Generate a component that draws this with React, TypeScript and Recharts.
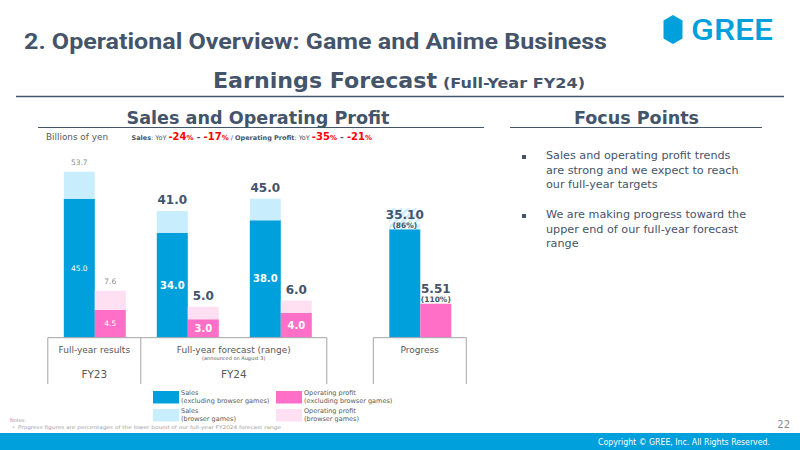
import React from 'react';
import { BarChart, Bar, XAxis, YAxis, LabelList, ReferenceLine } from 'recharts';

// ---------------- data ----------------
const categories = ['FY23 results', 'FY24 forecast (low)', 'FY24 forecast (high)', 'Progress'];
const xPositions = [0, 2, 4, 7];
const salesExBrowser = [45.0, 34.0, 38.0, 35.1];
const salesBrowser = [8.7, 7.0, 7.0, 0];
const opExBrowser = [4.5, 3.0, 4.0, 5.51];
const opBrowser = [3.1, 2.0, 2.0, 0];
const salesTotalLabels = ['53.7', '41.0', '45.0', '35.10'];
const opTotalLabels = ['7.6', '5.0', '6.0', '5.51'];
const salesInnerLabels = ['45.0', '34.0', '38.0', ''];
const opInnerLabels = ['4.5', '3.0', '4.0', ''];
const salesProgressPct = ['', '', '', '(86%)'];
const opProgressPct = ['', '', '', '(110%)'];

const groupTicks = [0, 3, 7];
const groupLabels = ['Full-year results', 'Full-year forecast (range)', 'Progress'];
const groupSubLabels = ['', '(announced on August 3)', ''];
const yearLabels = ['FY23', 'FY24', ''];
const frameEdges = [-1, 1, 5, 6, 8];
const frameTops = [[-1, 5], [6, 8]];
const frameDepth = -15;

const legendNames = [
  ['Sales', '(excluding browser games)'],
  ['Operating profit', '(excluding browser games)'],
  ['Sales', '(browser games)'],
  ['Operating profit', '(browser games)'],
];

const bullets = [
  ['Sales and operating profit trends', 'are strong and we expect to reach', 'our full-year targets'],
  ['We are making progress toward the', 'upper end of our full-year forecast', 'range'],
];

// ---------------- styles ----------------
const DARK_BLUE = '#00A0DC';
const LIGHT_BLUE = '#C8EEFE';
const PINK = '#FF6EC7';
const LIGHT_PINK = '#FFE0F3';
const SLATE = '#44546A';
const GRAY = '#595959';
const FONT = 'DejaVu Sans';
const legendColors = [DARK_BLUE, PINK, LIGHT_BLUE, LIGHT_PINK];

const chartData = categories.map((name, i) => ({
  name,
  x: xPositions[i],
  salesBase: salesExBrowser[i],
  salesBrowser: salesBrowser[i],
  opBase: opExBrowser[i],
  opBrowser: opBrowser[i],
  salesTop: salesProgressPct[i] ? '' : salesTotalLabels[i],
  opTop: opProgressPct[i] ? '' : opTotalLabels[i],
  salesProgTop: salesProgressPct[i] ? salesTotalLabels[i] : '',
  opProgTop: opProgressPct[i] ? opTotalLabels[i] : '',
  salesIn: salesInnerLabels[i],
  opIn: opInnerLabels[i],
}));

const box = (p: any) => {
  const vb = p.viewBox || {};
  return {
    x: p.x ?? vb.x,
    y: p.y ?? vb.y,
    width: p.width ?? vb.width,
    height: p.height ?? vb.height,
  };
};

const TopLabel = (props: any) => {
  const { x, y, width } = box(props);
  const idx = props.index;
  const value = props.value;
  if (!value) return null;
  const cx = x + width / 2;
  if (idx === 0) {
    return (
      <text x={cx} y={y - 7} textAnchor="middle" fontSize={7.5} fill="#8C8C8C" fontFamily={FONT}>
        {value}
      </text>
    );
  }
  return (
    <text x={cx} y={y - 7} textAnchor="middle" fontSize={12} fontWeight="bold" fill={SLATE} fontFamily={FONT}>
      {value}
    </text>
  );
};

const makeProgressLabel = (pctList: string[], hatched: boolean) => (props: any) => {
  const { x, y, width } = box(props);
  const value = props.value;
  if (!value) return null;
  const pct = pctList[props.index];
  const cx = x + width / 2;
  return (
    <g>
      {hatched && (
        <g>
          <defs>
            <pattern id="hatch" width="5" height="5" patternUnits="userSpaceOnUse" patternTransform="rotate(45)">
              <rect width="5" height="5" fill="#FFFFFF" />
              <rect width="2.5" height="5" fill={LIGHT_BLUE} />
            </pattern>
          </defs>
          <rect x={x} y={y - 21} width={width} height={21} fill="url(#hatch)" />
        </g>
      )}
      <text x={cx} y={y - 10.5} textAnchor="middle" fontSize={12} fontWeight="bold" fill={SLATE} fontFamily={FONT}>
        {value}
      </text>
      <text x={cx} y={y - 1.5} textAnchor="middle" fontSize={7.5} fontWeight="bold" fill={SLATE} fontFamily={FONT}>
        {pct}
      </text>
    </g>
  );
};

const InnerLabel = (props: any) => {
  const { x, y, width, height } = box(props);
  const value = props.value;
  if (!value) return null;
  const idx = props.index;
  return (
    <text
      x={x + width / 2}
      y={y + height / 2}
      dy="0.35em"
      textAnchor="middle"
      fontSize={idx === 0 ? 7.5 : 10}
      fontWeight={idx === 0 ? 'normal' : 'bold'}
      fill="#FFFFFF"
      fontFamily={FONT}
    >
      {value}
    </text>
  );
};

const GroupTick = (props: any) => {
  const { x, y, payload } = props;
  const i = groupTicks.indexOf(payload.value);
  if (i < 0) return null;
  return (
    <g>
      <text x={x} y={y + 15} textAnchor="middle" fontSize={9} fill={GRAY} fontFamily={FONT}>
        {groupLabels[i]}
      </text>
      {groupSubLabels[i] && (
        <text x={x} y={y + 22} textAnchor="middle" fontSize={5} fill={GRAY} fontFamily={FONT}>
          {groupSubLabels[i]}
        </text>
      )}
      {yearLabels[i] && (
        <text x={x} y={y + 40.5} textAnchor="middle" fontSize={10.5} fill={GRAY} fontFamily={FONT}>
          {yearLabels[i]}
        </text>
      )}
    </g>
  );
};

const SalesProgress = makeProgressLabel(salesProgressPct, true);
const OpProgress = makeProgressLabel(opProgressPct, false);

export default function App() {
  return (
    <div style={{ position: 'absolute', left: 0, top: 0, width: 800, height: 450, background: '#FFFFFF', overflow: 'hidden' }}>
      <div style={{ position: 'absolute', left: 0, top: 0 }}>
        <BarChart
          width={500}
          height={450}
          data={chartData}
          margin={{ top: 152.3, left: 47.8, right: 33.7, bottom: 62.3 }}
          barGap={0}
        >
          <XAxis
            type="number"
            dataKey="x"
            domain={[-1, 8]}
            ticks={groupTicks}
            tick={<GroupTick />}
            interval={0}
            axisLine={false}
            tickLine={false}
            tickSize={0}
            tickMargin={0}
            height={50}
            allowDataOverflow
          />
          <YAxis yAxisId="s" hide domain={[0, 60]} allowDataOverflow />
          <YAxis yAxisId="o" hide orientation="right" domain={[0, 30]} allowDataOverflow />
          <Bar yAxisId="s" dataKey="salesBase" stackId="s" fill={DARK_BLUE} barSize={31} isAnimationActive={false}>
            <LabelList dataKey="salesIn" content={InnerLabel} />
            <LabelList dataKey="salesProgTop" content={SalesProgress} />
          </Bar>
          <Bar yAxisId="s" dataKey="salesBrowser" stackId="s" fill={LIGHT_BLUE} barSize={31} isAnimationActive={false}>
            <LabelList dataKey="salesTop" content={TopLabel} />
          </Bar>
          <Bar yAxisId="o" dataKey="opBase" stackId="o" fill={PINK} barSize={31} isAnimationActive={false}>
            <LabelList dataKey="opIn" content={InnerLabel} />
            <LabelList dataKey="opProgTop" content={OpProgress} />
          </Bar>
          <Bar yAxisId="o" dataKey="opBrowser" stackId="o" fill={LIGHT_PINK} barSize={31} isAnimationActive={false}>
            <LabelList dataKey="opTop" content={TopLabel} />
          </Bar>
          {frameTops.map(([a, b], i) => (
            <ReferenceLine
              key={'t' + i}
              yAxisId="s"
              segment={[{ x: a, y: 0 }, { x: b, y: 0 }]}
              stroke="#A6A6A6"
              strokeWidth={1}
              ifOverflow="visible"
            />
          ))}
          {frameEdges.map((e, i) => (
            <ReferenceLine
              key={'e' + i}
              yAxisId="s"
              segment={[{ x: e, y: 0 }, { x: e, y: frameDepth }]}
              stroke="#A6A6A6"
              strokeWidth={1}
              ifOverflow="visible"
            />
          ))}
        </BarChart>
      </div>

      <svg width={800} height={450} style={{ position: 'absolute', left: 0, top: 0, pointerEvents: 'none' }}>
        {/* Title */}
        <text x={24} y={49} fontSize={22} fontWeight="bold" fill={SLATE} fontFamily="Roboto" textLength={583} lengthAdjust="spacingAndGlyphs">
          2. Operational Overview: Game and Anime Business
        </text>
        {/* Logo */}
        <polygon points="673,15 682.5,20.5 682.5,38.5 673,44 663.5,38.5 663.5,20.5" fill={DARK_BLUE} />
        <text x={691} y={40} fontSize={29} fontWeight={500} fill={DARK_BLUE} fontFamily="Roboto" textLength={82} lengthAdjust="spacingAndGlyphs">
          GREE
        </text>
        {/* Subtitle */}
        <text x={213} y={88} fontSize={21.5} fontWeight="bold" fill={SLATE} fontFamily={FONT} textLength={224} lengthAdjust="spacingAndGlyphs">
          Earnings Forecast
        </text>
        <text x={443} y={88} fontSize={14} fontWeight="bold" fill={SLATE} fontFamily={FONT} textLength={142} lengthAdjust="spacingAndGlyphs">
          (Full-Year FY24)
        </text>
        <line x1={16} x2={784} y1={96.5} y2={96.5} stroke={SLATE} strokeWidth={1.5} />
        {/* Section headers */}
        <text x={258} y={124} textAnchor="middle" fontSize={17} fontWeight="bold" fill={SLATE} fontFamily={FONT} textLength={263} lengthAdjust="spacingAndGlyphs">
          Sales and Operating Profit
        </text>
        <line x1={38} x2={484} y1={127.5} y2={127.5} stroke={SLATE} strokeWidth={1} />
        <text x={636.5} y={124} textAnchor="middle" fontSize={17} fontWeight="bold" fill={SLATE} fontFamily={FONT} textLength={125} lengthAdjust="spacingAndGlyphs">
          Focus Points
        </text>
        <line x1={510} x2={762} y1={127.5} y2={127.5} stroke={SLATE} strokeWidth={1} />
        {/* Units and YoY */}
        <text x={46} y={140} fontSize={8.5} fill={GRAY} fontFamily={FONT} textLength={62} lengthAdjust="spacingAndGlyphs">
          Billions of yen
        </text>
        <text x={131.5} y={140} fontSize={6.5} fill={SLATE} fontFamily={FONT}>
          <tspan fontWeight="bold">Sales</tspan>
          <tspan>: YoY </tspan>
          <tspan fill="#FF0000" fontWeight="bold" fontSize={10}>-24</tspan>
          <tspan fill="#FF0000" fontWeight="bold" fontSize={7}>%</tspan>
          <tspan fontWeight="bold" fontSize={9}> - </tspan>
          <tspan fill="#FF0000" fontWeight="bold" fontSize={10}>-17</tspan>
          <tspan fill="#FF0000" fontWeight="bold" fontSize={7}>%</tspan>
          <tspan> / </tspan>
          <tspan fontWeight="bold">Operating Profit</tspan>
          <tspan>: YoY </tspan>
          <tspan fill="#FF0000" fontWeight="bold" fontSize={10}>-35</tspan>
          <tspan fill="#FF0000" fontWeight="bold" fontSize={7}>%</tspan>
          <tspan fontWeight="bold" fontSize={9}> - </tspan>
          <tspan fill="#FF0000" fontWeight="bold" fontSize={10}>-21</tspan>
          <tspan fill="#FF0000" fontWeight="bold" fontSize={7}>%</tspan>
        </text>
        {/* Bullets */}
        {bullets.map((lines, b) => (
          <g key={b}>
            <rect x={522} y={155 + b * 59} width={4} height={4} fill={SLATE} />
            {lines.map((ln, j) => (
              <text key={j} x={546} y={159 + b * 59 + j * 14.5} fontSize={11.2} fill={SLATE} fontFamily={FONT}>
                {ln}
              </text>
            ))}
          </g>
        ))}
        {/* Legend */}
        {legendNames.map((nm, i) => {
          const col = i % 2;
          const row = Math.floor(i / 2);
          const lx = col === 0 ? 153 : 276;
          const ly = row === 0 ? 391 : 409;
          return (
            <g key={i}>
              <rect x={lx} y={ly} width={26} height={12.5} fill={legendColors[i]} />
              <text x={lx + 28} y={ly + 4} fontSize={6.5} fill={GRAY} fontFamily={FONT}>{nm[0]}</text>
              <text x={lx + 28} y={ly + 12.3} fontSize={6.5} fill={GRAY} fontFamily={FONT}>{nm[1]}</text>
            </g>
          );
        })}
        {/* Notes */}
        <text x={10} y={422} fontSize={5} fill="#A0A0A0" fontFamily={FONT}>Notes:</text>
        <text x={12} y={429} fontSize={5} fill="#A0A0A0" fontFamily={FONT}>•</text>
        <text x={18} y={429} fontSize={5} fill="#A0A0A0" fontFamily={FONT} textLength={263} lengthAdjust="spacingAndGlyphs">
          Progress figures are percentages of the lower bound of our full-year FY2024 forecast range
        </text>
        <text x={790} y={428} textAnchor="end" fontSize={10} fill="#8C8C8C" fontFamily={FONT}>22</text>
        {/* Footer */}
        <rect x={0} y={433} width={800} height={17} fill={DARK_BLUE} />
        <text x={770} y={445} textAnchor="end" fontSize={8} fill="#FFFFFF" fontFamily={FONT} textLength={172} lengthAdjust="spacingAndGlyphs">
          Copyright © GREE, Inc. All Rights Reserved.
        </text>
      </svg>
    </div>
  );
}
